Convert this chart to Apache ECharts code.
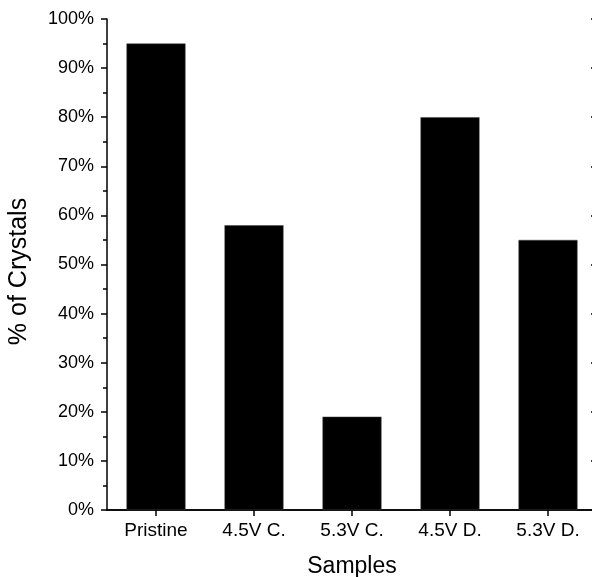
<!DOCTYPE html>
<html>
<head>
<meta charset="utf-8">
<script src="https://cdn.jsdelivr.net/npm/echarts@6/dist/echarts.min.js"></script>
<style>
  html, body { margin: 0; padding: 0; background: #fff; }
  #chart { width: 592px; height: 577px; }
</style>
</head>
<body>
<div id="chart"></div>
<script>
// Share of crystals per sample
const samples = ['Pristine', '4.5V C.', '5.3V C.', '4.5V D.', '5.3V D.'];
const crystalPercent = [95, 58, 19, 80, 55];

const FONT = '"Liberation Sans", Arial, Helvetica, sans-serif';
const axisLine = { show: true, lineStyle: { color: '#000', width: 1.5 } };

const chart = echarts.init(document.getElementById('chart'), null, { renderer: 'canvas' });
chart.setOption({
  animation: false,
  backgroundColor: '#fff',
  grid: {
    left: 107, top: 19, width: 490, height: 491,
    containLabel: false,
    outerBoundsMode: 'none'
  },
  xAxis: [
    {
      type: 'category',
      position: 'bottom',
      data: samples,
      name: 'Samples',
      nameLocation: 'middle',
      nameGap: 45,
      nameTextStyle: { fontFamily: FONT, fontSize: 23, color: '#000' },
      axisLine: axisLine,
      axisTick: { show: true, alignWithLabel: true, inside: false, length: 6, lineStyle: { color: '#000', width: 1.5 } },
      axisLabel: { fontFamily: FONT, fontSize: 19, color: '#000', margin: 11 },
      splitLine: { show: false }
    },
    {
      type: 'category',
      position: 'top',
      data: samples,
      axisLine: axisLine,
      axisTick: { show: true, alignWithLabel: true, inside: true, length: 6, lineStyle: { color: '#000', width: 1.5 } },
      axisLabel: { show: false },
      splitLine: { show: false }
    }
  ],
  yAxis: [
    {
      type: 'value',
      position: 'left',
      min: 0,
      max: 100,
      interval: 10,
      name: '% of Crystals',
      nameLocation: 'middle',
      nameGap: 75,
      nameTextStyle: { fontFamily: FONT, fontSize: 25, color: '#000', padding: [0, 14, 0, 0] },
      axisLine: axisLine,
      axisTick: { show: true, inside: false, length: 6, lineStyle: { color: '#000', width: 1.5 } },
      minorTick: { show: true, splitNumber: 2, length: 4, lineStyle: { color: '#000', width: 1.5 } },
      axisLabel: { fontFamily: FONT, fontSize: 18, color: '#000', margin: 13, formatter: '{value}%' },
      splitLine: { show: false }
    },
    {
      type: 'value',
      position: 'right',
      min: 0,
      max: 100,
      interval: 10,
      axisLine: axisLine,
      axisTick: { show: true, inside: true, length: 6, lineStyle: { color: '#000', width: 1.5 } },
      minorTick: { show: true, splitNumber: 2, length: 4, lineStyle: { color: '#000', width: 1.5 } },
      axisLabel: { show: false },
      splitLine: { show: false }
    }
  ],
  series: [
    {
      type: 'bar',
      xAxisIndex: 0,
      yAxisIndex: 0,
      data: crystalPercent,
      barWidth: 59,
      itemStyle: { color: '#000', borderColor: '#444', borderWidth: 0.5 },
      emphasis: { disabled: true }
    }
  ]
});
</script>
</body>
</html>
